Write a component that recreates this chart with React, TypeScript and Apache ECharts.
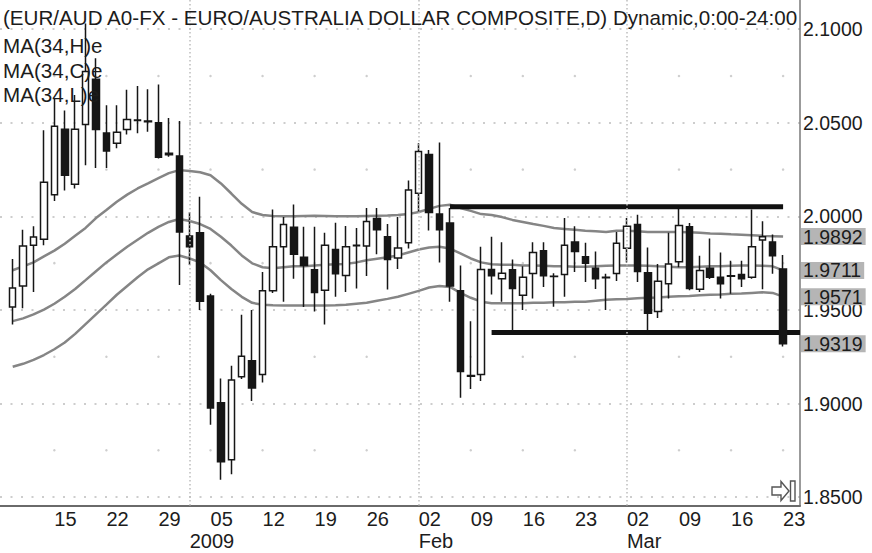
import React, { useEffect, useRef } from 'react';
import * as echarts from 'echarts';

// ---------- data ----------
const DATES = [
  '2008-12-09', '2008-12-10', '2008-12-11', '2008-12-12', '2008-12-15', '2008-12-16', '2008-12-17', '2008-12-18', '2008-12-19',
  '2008-12-22', '2008-12-23', '2008-12-24', '2008-12-25', '2008-12-26', '2008-12-29', '2008-12-30', '2008-12-31',
  '2009-01-01', '2009-01-02', '2009-01-05', '2009-01-06', '2009-01-07', '2009-01-08', '2009-01-09', '2009-01-12',
  '2009-01-13', '2009-01-14', '2009-01-15', '2009-01-16', '2009-01-19', '2009-01-20', '2009-01-21', '2009-01-22',
  '2009-01-23', '2009-01-26', '2009-01-27', '2009-01-28', '2009-01-29', '2009-01-30',
  '2009-02-02', '2009-02-03', '2009-02-04', '2009-02-05', '2009-02-06', '2009-02-09', '2009-02-10', '2009-02-11',
  '2009-02-12', '2009-02-13', '2009-02-16', '2009-02-17', '2009-02-18', '2009-02-19', '2009-02-20', '2009-02-23',
  '2009-02-24', '2009-02-25', '2009-02-26', '2009-02-27',
  '2009-03-02', '2009-03-03', '2009-03-04', '2009-03-05', '2009-03-06', '2009-03-09', '2009-03-10', '2009-03-11',
  '2009-03-12', '2009-03-13', '2009-03-16', '2009-03-17', '2009-03-18', '2009-03-19', '2009-03-20', '2009-03-23',
];

const OPEN = [
  1.9515, 1.9628, 1.9845, 1.9877, 2.0116, 2.0466, 2.0171, 2.0491, 2.0733, 2.0445,
  2.0391, 2.0464, 2.0512, 2.0509, 2.0500, 2.0337, 2.0322, 1.9895, 1.9912, 1.9575,
  1.9004, 1.8700, 1.9143, 1.9228, 1.9155, 1.9602, 1.9838, 1.9942, 1.9781, 1.9715,
  1.9605, 1.9823, 1.9684, 1.9843, 1.9842, 1.9988, 1.9891, 1.9778, 1.9859, 2.0124,
  2.0331, 2.0013, 1.9965, 1.9602, 1.9145, 1.9155, 1.9716, 1.9666, 1.9715, 1.9579,
  1.9695, 1.9816, 1.9680, 1.9689, 1.9863, 1.9784, 1.9723, 1.9672, 1.9695, 1.9829,
  1.9956, 1.9698, 1.9491, 1.9640, 1.9758, 1.9944, 1.9611, 1.9723, 1.9675, 1.9680,
  1.9689, 1.9675, 1.9874, 1.9863, 1.9719,
];
const CLOSE = [
  1.9617, 1.9842, 1.9889, 2.0182, 2.0482, 2.0220, 2.0466, 2.0774, 2.0464, 2.0349,
  2.0449, 2.0517, 2.0515, 2.0506, 2.0316, 2.0329, 1.9916, 1.9838, 1.9546, 1.8976,
  1.8689, 1.9126, 1.9253, 1.9083, 1.9602, 1.9838, 1.9956, 1.9798, 1.9737, 1.9593,
  1.9845, 1.9693, 1.9838, 1.9846, 1.9972, 1.9928, 1.9770, 1.9831, 2.0141, 2.0346,
  2.0021, 1.9928, 1.9628, 1.9171, 1.9149, 1.9716, 1.9683, 1.9696, 1.9614, 1.9675,
  1.9807, 1.9682, 1.9678, 1.9845, 1.9812, 1.9749, 1.9666, 1.9674, 1.9856, 1.9947,
  1.9705, 1.9482, 1.9653, 1.9745, 1.9951, 1.9614, 1.9711, 1.9675, 1.9640, 1.9682,
  1.9666, 1.9837, 1.9891, 1.9789, 1.9319,
];
const LOW = [
  1.9422, 1.9509, 1.9596, 1.9845, 2.0082, 2.0138, 2.0149, 2.0273, 2.0258, 2.0258,
  2.0364, 2.0437, 2.0444, 2.0452, 2.0309, 2.0318, 1.9633, 1.9740, 1.9500, 1.8887,
  1.8593, 1.8622, 1.9131, 1.9013, 1.9112, 1.9591, 1.9544, 1.9667, 1.9515, 1.9491,
  1.9422, 1.9570, 1.9596, 1.9614, 1.9681, 1.9798, 1.9609, 1.9719, 1.9828, 2.0027,
  1.9925, 1.9754, 1.9544, 1.9031, 1.9078, 1.9120, 1.9583, 1.9544, 1.9388, 1.9500,
  1.9561, 1.9623, 1.9517, 1.9570, 1.9702, 1.9649, 1.9612, 1.9500, 1.9654, 1.9754,
  1.9649, 1.9393, 1.9457, 1.9561, 1.9728, 1.9605, 1.9596, 1.9665, 1.9561, 1.9587,
  1.9623, 1.9666, 1.9611, 1.9693, 1.9305,
];
const HIGH = [
  1.9772, 1.9929, 1.9947, 2.0460, 2.0627, 2.0565, 2.0649, 2.1030, 2.0845, 2.0593,
  2.0593, 2.0677, 2.0697, 2.0679, 2.0705, 2.0526, 2.0509, 2.0022, 2.0105, 1.9586,
  1.9134, 1.9202, 1.9474, 1.9500, 1.9702, 2.0036, 1.9996, 2.0063, 1.9944, 1.9944,
  1.9912, 1.9966, 1.9949, 1.9938, 2.0045, 2.0045, 1.9959, 1.9996, 2.0191, 2.0391,
  2.0355, 2.0395, 2.0045, 1.9738, 1.9440, 1.9838, 1.9891, 1.9861, 1.9770, 1.9733,
  1.9861, 1.9861, 1.9696, 1.9991, 1.9947, 1.9859, 1.9812, 1.9693, 1.9917, 1.9991,
  2.0009, 1.9833, 1.9745, 1.9912, 2.0040, 1.9965, 1.9789, 1.9881, 1.9807, 1.9763,
  1.9763, 2.0036, 1.9974, 1.9903, 1.9793,
];

const MA_HIGH = [
  1.9712, 1.9733, 1.9754, 1.9786, 1.9817, 1.9854, 1.9896, 1.9938, 1.9991, 2.0034,
  2.0078, 2.0116, 2.0149, 2.0176, 2.0204, 2.0231, 2.0247, 2.0242, 2.0236, 2.0220,
  2.0176, 2.0122, 2.0067, 2.0023, 2.0007, 2.0002, 2.0001, 2.0000, 2.0002, 2.0003,
  2.0002, 2.0001, 2.0000, 2.0001, 2.0002, 2.0003, 2.0004, 2.0007, 2.0012, 2.0023,
  2.0040, 2.0056, 2.0062, 2.0045, 2.0029, 2.0012, 2.0007, 1.9996, 1.9981, 1.9970,
  1.9959, 1.9949, 1.9938, 1.9933, 1.9928, 1.9923, 1.9920, 1.9917, 1.9923, 1.9923,
  1.9920, 1.9917, 1.9917, 1.9917, 1.9917, 1.9915, 1.9912, 1.9909, 1.9907, 1.9904,
  1.9902, 1.9899, 1.9896, 1.9894, 1.9892,
];
const MA_CLOSE = [
  1.9440, 1.9455, 1.9476, 1.9502, 1.9533, 1.9570, 1.9612, 1.9659, 1.9707, 1.9754,
  1.9796, 1.9838, 1.9875, 1.9912, 1.9944, 1.9970, 1.9986, 1.9975, 1.9959, 1.9933,
  1.9891, 1.9844, 1.9791, 1.9749, 1.9728, 1.9723, 1.9728, 1.9733, 1.9733, 1.9738,
  1.9741, 1.9744, 1.9746, 1.9754, 1.9765, 1.9773, 1.9781, 1.9791, 1.9807, 1.9823,
  1.9833, 1.9838, 1.9828, 1.9802, 1.9775, 1.9754, 1.9744, 1.9741, 1.9741, 1.9738,
  1.9738, 1.9736, 1.9733, 1.9733, 1.9731, 1.9731, 1.9733, 1.9736, 1.9738, 1.9738,
  1.9738, 1.9736, 1.9733, 1.9731, 1.9728, 1.9728, 1.9731, 1.9733, 1.9733, 1.9736,
  1.9738, 1.9738, 1.9736, 1.9733, 1.9711,
];
const MA_LOW = [
  1.9196, 1.9212, 1.9233, 1.9259, 1.9290, 1.9326, 1.9372, 1.9424, 1.9476, 1.9528,
  1.9581, 1.9628, 1.9675, 1.9717, 1.9749, 1.9781, 1.9791, 1.9775, 1.9754, 1.9712,
  1.9659, 1.9612, 1.9570, 1.9538, 1.9528, 1.9525, 1.9523, 1.9523, 1.9523, 1.9523,
  1.9523, 1.9525, 1.9528, 1.9533, 1.9538, 1.9549, 1.9559, 1.9570, 1.9586, 1.9602,
  1.9620, 1.9628, 1.9623, 1.9591, 1.9565, 1.9544, 1.9536, 1.9536, 1.9536, 1.9536,
  1.9538, 1.9538, 1.9541, 1.9541, 1.9544, 1.9544, 1.9549, 1.9554, 1.9557, 1.9559,
  1.9562, 1.9565, 1.9567, 1.9570, 1.9573, 1.9575, 1.9578, 1.9581, 1.9583, 1.9586,
  1.9588, 1.9591, 1.9594, 1.9591, 1.9571,
];

const MA_NAMES = ['MA(34,H)e', 'MA(34,C)e', 'MA(34,L)e'];
const TITLE = '(EUR/AUD A0-FX - EURO/AUSTRALIA DOLLAR COMPOSITE,D) Dynamic,0:00-24:00';

const DAY_TICK_DATES = [
  '2008-12-15', '2008-12-22', '2008-12-29', '2009-01-05', '2009-01-12', '2009-01-19', '2009-01-26',
  '2009-02-02', '2009-02-09', '2009-02-16', '2009-02-23', '2009-03-02', '2009-03-09', '2009-03-16', '2009-03-23',
];
const DAY_TICK_TEXT = ['15', '22', '29', '05', '12', '19', '26', '02', '09', '16', '23', '02', '09', '16', '23'];
const PERIOD_TICK_DATES = ['2009-01-01', '2009-02-02', '2009-03-02'];
const PERIOD_TICK_TEXT = ['2009', 'Feb', 'Mar'];
const HALF_LEVELS = [1.875, 1.925, 1.975, 2.025, 2.075];

const RESISTANCE_LEVEL = 2.0051;
const RESISTANCE_DATES = ['2009-02-05', '2009-03-23'];
const SUPPORT_LEVEL = 1.938;
const SUPPORT_START_DATE = '2009-02-11';

// ---------- layout ----------
const W = 872;
const H = 553;
const FONT = '"Liberation Sans", Arial, Helvetica, sans-serif';
const PLOT_RIGHT = 800;
const PLOT_BOTTOM = 505.5;
const CANDLE_LEFT = 7.5;
const CANDLE_WIDTH = 780.8;
const Y_MIN = 1.8455;
const Y_MAX = 2.1156;
const TEXT = '#1c1c1c';

export default function App() {
  const ref = useRef<HTMLDivElement>(null);

  useEffect(() => {
    if (!ref.current) return;
    const chart = echarts.init(ref.current, null, { renderer: 'svg' });
    const n = DATES.length;
    const band = CANDLE_WIDTH / n;
    const xMin = -0.5 - CANDLE_LEFT / band;
    const xMax = n - 0.5 + (PLOT_RIGHT - CANDLE_LEFT - CANDLE_WIDTH) / band;

    const candles = DATES.map((_, i) => [OPEN[i], CLOSE[i], LOW[i], HIGH[i]]);
    const weekDates = DAY_TICK_DATES.filter((d) => !PERIOD_TICK_DATES.includes(d));
    const gridDots: [string, number][] = [];
    weekDates.forEach((d) => HALF_LEVELS.forEach((v) => gridDots.push([d, v])));

    const tags = [MA_HIGH[n - 1], MA_CLOSE[n - 1], MA_LOW[n - 1], CLOSE[n - 1]];
    const rStart = DATES.indexOf(RESISTANCE_DATES[0]);
    const rEnd = DATES.indexOf(RESISTANCE_DATES[1]);
    const sStart = DATES.indexOf(SUPPORT_START_DATE);

    const option: any = {
      animation: false,
      backgroundColor: '#ffffff',
      textStyle: { fontFamily: FONT },
      title: {
        text: TITLE,
        left: 3,
        top: 7,
        padding: 0,
        textStyle: { fontSize: 20.6, fontWeight: 'normal', color: TEXT, fontFamily: FONT, lineHeight: 20 },
      },
      legend: {
        data: MA_NAMES,
        orient: 'vertical',
        left: -2,
        top: 35,
        padding: 0,
        itemGap: 3.5,
        itemWidth: 0,
        itemHeight: 20,
        icon: 'none',
        selectedMode: false,
        textStyle: { fontSize: 20.6, color: TEXT, fontFamily: FONT, lineHeight: 20 },
      },
      grid: [
        { left: 0, top: 0, width: PLOT_RIGHT, height: PLOT_BOTTOM },
        { left: CANDLE_LEFT, top: 0, width: CANDLE_WIDTH, height: PLOT_BOTTOM },
      ],
      xAxis: [
        {
          type: 'value',
          gridIndex: 0,
          min: xMin,
          max: xMax,
          axisLine: { show: true, onZero: false, lineStyle: { color: '#6a6a6a', width: 2 } },
          axisTick: { show: false },
          axisLabel: { show: false },
          splitLine: { show: false },
        },
        {
          type: 'category',
          gridIndex: 1,
          data: DATES,
          boundaryGap: true,
          axisLine: { show: false },
          axisTick: { show: false },
          splitLine: { show: false },
          axisLabel: {
            interval: (_i: number, v: string) => DAY_TICK_DATES.includes(v),
            formatter: (v: string) => DAY_TICK_TEXT[DAY_TICK_DATES.indexOf(v)],
            align: 'left',
            margin: 3,
            fontSize: 20,
            lineHeight: 20,
            color: TEXT,
            fontFamily: FONT,
          },
        },
        {
          type: 'category',
          gridIndex: 1,
          data: DATES,
          position: 'bottom',
          offset: 22,
          boundaryGap: true,
          axisLine: { show: false },
          axisTick: { show: false },
          splitLine: { show: false },
          axisLabel: {
            interval: (_i: number, v: string) => PERIOD_TICK_DATES.includes(v),
            formatter: (v: string) => PERIOD_TICK_TEXT[PERIOD_TICK_DATES.indexOf(v)],
            align: 'left',
            margin: 3,
            fontSize: 20,
            lineHeight: 20,
            color: TEXT,
            fontFamily: FONT,
          },
        },
      ],
      yAxis: [
        {
          type: 'value',
          gridIndex: 0,
          position: 'right',
          min: Y_MIN,
          max: Y_MAX,
          splitNumber: 5,
          axisLine: { show: true, onZero: false, lineStyle: { color: '#7a7a7a', width: 1.5 } },
          axisTick: { show: false },
          axisLabel: {
            showMinLabel: false,
            showMaxLabel: false,
            margin: 3,
            fontSize: 19.5,
            color: TEXT,
            fontFamily: FONT,
            formatter: (v: number) => v.toFixed(4),
          },
          splitLine: {
            show: true,
            showMinLine: false,
            showMaxLine: false,
            lineStyle: { color: '#bdbdbd', width: 1.6, type: [2, 8.5] },
          },
        },
        {
          type: 'value',
          gridIndex: 1,
          min: Y_MIN,
          max: Y_MAX,
          show: false,
          axisLine: { onZero: false },
          splitLine: { show: false },
        },
      ],
      graphic: [
        {
          type: 'polygon',
          silent: true,
          shape: {
            points: [[772, 487], [781, 487], [781, 481.5], [789, 491], [781, 500.5], [781, 495], [772, 495]],
          },
          style: { fill: '#ffffff', stroke: '#555', lineWidth: 1.4 },
        },
        {
          type: 'rect',
          silent: true,
          shape: { x: 790.5, y: 481, width: 4.5, height: 20 },
          style: { fill: '#ffffff', stroke: '#555', lineWidth: 1.4 },
        },
      ],
      series: [
        {
          name: 'grid',
          type: 'scatter',
          xAxisIndex: 1,
          yAxisIndex: 1,
          silent: true,
          symbolSize: 2.5,
          itemStyle: { color: '#c2c2c2' },
          data: gridDots,
          z: 1,
          markLine: {
            silent: true,
            symbol: 'none',
            label: { show: false },
            lineStyle: { color: '#bdbdbd', width: 1.5, type: [1.5, 2.5] },
            data: PERIOD_TICK_DATES.map((d) => ({ xAxis: d })),
          },
        },
        ...[MA_HIGH, MA_CLOSE, MA_LOW].map((arr, k) => ({
          name: MA_NAMES[k],
          type: 'line',
          xAxisIndex: 1,
          yAxisIndex: 1,
          data: arr,
          symbol: 'none',
          silent: true,
          lineStyle: { color: '#858585', width: 2.5 },
          itemStyle: { color: '#858585' },
          z: 2,
        })),
        {
          name: 'Resistance',
          type: 'line',
          xAxisIndex: 0,
          yAxisIndex: 0,
          symbol: 'none',
          silent: true,
          data: [[rStart, RESISTANCE_LEVEL], [rEnd, RESISTANCE_LEVEL]],
          lineStyle: { color: '#111', width: 5, cap: 'butt' },
          z: 2,
        },
        {
          name: 'Support',
          type: 'line',
          xAxisIndex: 0,
          yAxisIndex: 0,
          symbol: 'none',
          silent: true,
          data: [[sStart, SUPPORT_LEVEL], [xMax, SUPPORT_LEVEL]],
          lineStyle: { color: '#111', width: 5, cap: 'butt' },
          z: 2,
          markLine: {
            silent: true,
            symbol: 'none',
            precision: 4,
            lineStyle: { color: 'rgba(0,0,0,0)', width: 0 },
            label: {
              show: true,
              position: 'end',
              distance: 1,
              formatter: (p: any) => tags[p.dataIndex].toFixed(4),
              backgroundColor: '#b5b5b5',
              color: TEXT,
              fontSize: 19.5,
              lineHeight: 17,
              padding: [0, 3, 0, 2],
              fontFamily: FONT,
            },
            data: tags.map((v) => ({ yAxis: v })),
            z: 10,
          },
        },
        {
          name: 'EUR/AUD',
          type: 'candlestick',
          xAxisIndex: 1,
          yAxisIndex: 1,
          data: candles,
          barWidth: 7,
          silent: true,
          itemStyle: {
            color: '#ffffff',
            color0: '#161616',
            borderColor: '#161616',
            borderColor0: '#161616',
            borderColorDoji: '#161616',
            borderWidth: 1.5,
          },
          z: 3,
        },
      ],
    };

    chart.setOption(option);
    return () => chart.dispose();
  }, []);

  return (
    <div
      ref={ref}
      style={{ position: 'fixed', left: 0, top: 0, width: W, height: H, background: '#fff' }}
    />
  );
}
